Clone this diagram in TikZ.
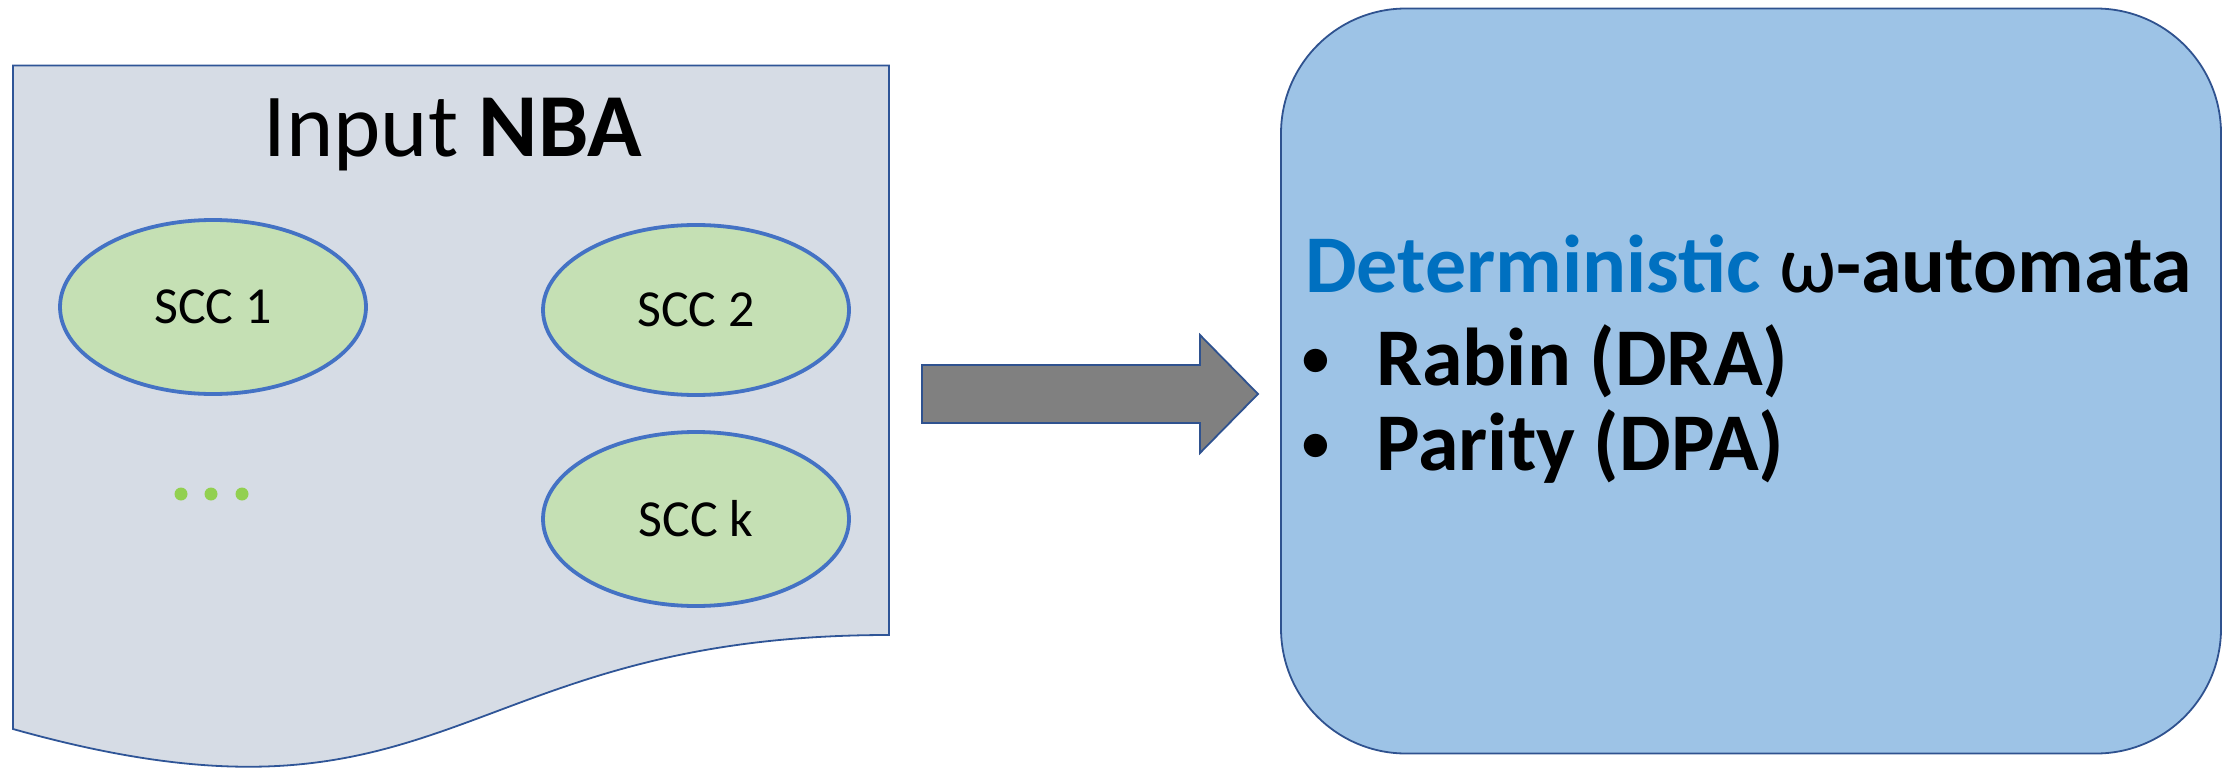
\documentclass[tikz,border=0pt]{standalone}
\usepackage{fontspec}
\setmainfont{Carlito}
\usetikzlibrary{shapes.geometric}
\definecolor{docfill}{HTML}{D6DCE5}
\definecolor{docline}{HTML}{2F5597}
\definecolor{sccfill}{HTML}{C5E0B4}
\definecolor{sccline}{HTML}{4472C4}
\definecolor{outfill}{HTML}{9DC3E6}
\definecolor{outline}{HTML}{2F528F}
\definecolor{dotgreen}{HTML}{92D050}
\definecolor{detblue}{HTML}{0070C0}
\tikzset{
  sccnode/.style={ellipse, draw=sccline, line width=3.8pt, fill=sccfill,
    minimum width=306pt, minimum height=174pt, inner sep=0pt,
    font=\fontsize{52}{62}\selectfont},
  bigtext/.style={inner sep=0pt, font=\fontsize{82}{98}\selectfont\bfseries},
  bulletstyle/.style={inner sep=0pt, font=\fontsize{66}{80}\selectfont},
  dotstyle/.style={circle, fill=dotgreen, minimum size=13pt, inner sep=0pt}
}
\begin{document}
\begin{tikzpicture}[x=1pt,y=-1pt]
\useasboundingbox (0,0) rectangle (2234,770);
% document shape
\draw[draw=docline, line width=1.8pt, fill=docfill]
  (13,65.5) -- (889,65.5) -- (889,635)
  .. controls (451,635) and (451,852) .. (13,729) -- cycle;
\node[inner sep=0pt, anchor=base, font=\fontsize{90}{108}\selectfont] (title) at (453,157) {Input \textbf{NBA}};
\node[sccnode] (s1) at (213,307) {SCC 1};
\node[sccnode, minimum height=170pt] (s2) at (696,310) {SCC 2};
\node[sccnode] (sk) at (696,519) {SCC k};
\node[dotstyle] (d1) at (181,494) {};
\node[dotstyle] (d2) at (211,494) {};
\node[dotstyle] (d3) at (242,494) {};
% block arrow
\draw[draw=outline, line width=1.8pt, fill=gray]
  (922,365) -- (1200,365) -- (1200,335) -- (1258,394) -- (1200,453) -- (1200,423) -- (922,423) -- cycle;
% output box
\node[draw=outline, line width=1.8pt, fill=outfill, rounded corners=125pt,
  minimum width=940pt, minimum height=745pt] (out) at (1751,381) {};
\node[bigtext, anchor=base west] (det) at (1305,292) {\textcolor{detblue}{Deterministic} {\mdseries ω}-automata};
\node[bulletstyle, anchor=center] (b1) at (1316,364) {•};
\node[bigtext, anchor=base west] (rabin) at (1376,385) {Rabin (DRA)};
\node[bulletstyle, anchor=center] (b2) at (1316,449) {•};
\node[bigtext, anchor=base west] (parity) at (1376,470) {Parity (DPA)};
\end{tikzpicture}
\end{document}
